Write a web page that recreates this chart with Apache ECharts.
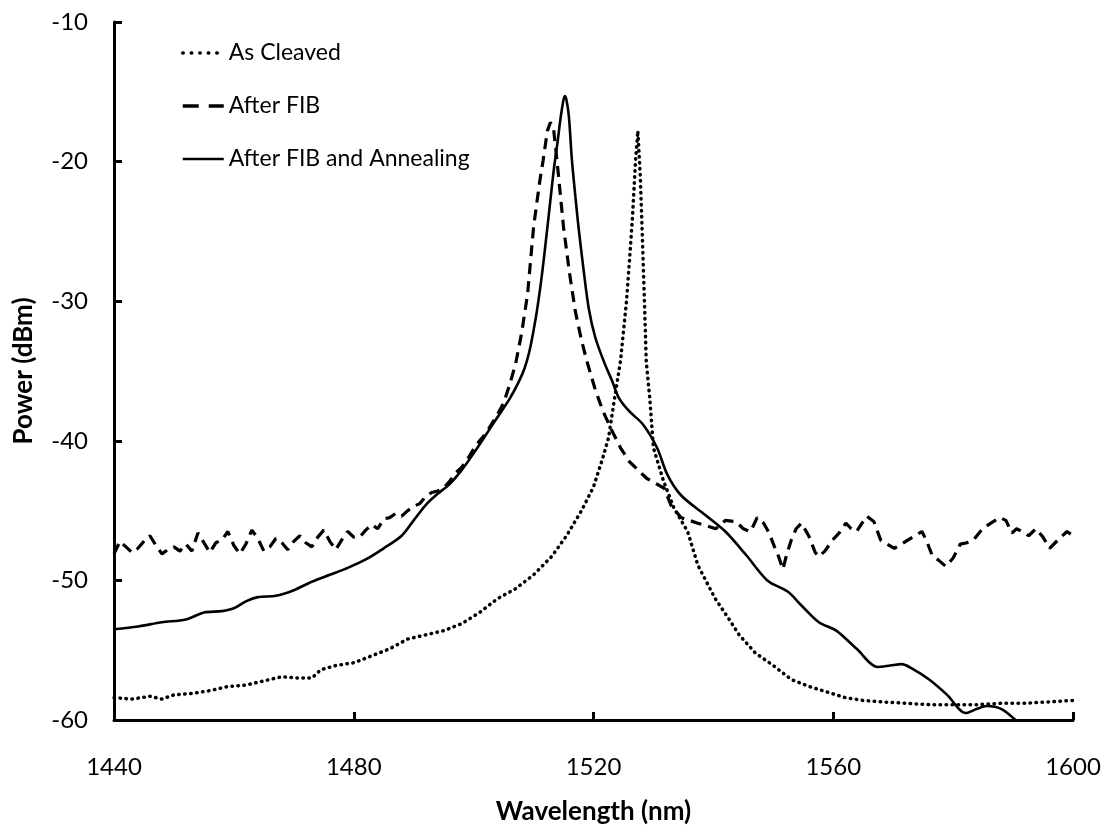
<!DOCTYPE html>
<html>
<head>
<meta charset="utf-8">
<script src="https://cdn.jsdelivr.net/npm/echarts@6/dist/echarts.min.js"></script>
<style>html,body{margin:0;padding:0;background:#fff}#c{width:1113px;height:834px}</style>
</head>
<body>
<div id="c"></div>
<script>
const seriesNames = ['As Cleaved', 'After FIB', 'After FIB and Annealing'];
const xTicks = [1440, 1480, 1520, 1560, 1600];
const yTicks = [-60, -50, -40, -30, -20, -10];

const cleavedX = [1440,1443,1446,1448,1450,1453,1456,1459,1462,1465,1468,1471,1473,1474.5,1477,1480,1483,1486,1489,1492,1495,1498,1501,1504,1507,1510,1513,1515.5,1518,1520,1521.5,1522.5,1523.5,1524.5,1525.5,1526,1526.5,1527,1527.4,1527.8,1528.1,1528.5,1528.8,1529.4,1530,1531.7,1533.4,1535.7,1537.4,1540.3,1542.5,1544.3,1547,1550,1553,1556,1559,1562,1565,1568,1572,1576,1580,1584,1588,1592,1596,1600];
const cleavedY = [-58.4,-58.5,-58.3,-58.5,-58.2,-58.1,-57.9,-57.6,-57.5,-57.2,-56.9,-57.0,-57.0,-56.4,-56.1,-55.9,-55.4,-54.9,-54.2,-53.9,-53.6,-53.1,-52.3,-51.3,-50.6,-49.6,-48.3,-46.8,-45.0,-43.3,-41.3,-39.8,-37.0,-34.3,-30.0,-27.1,-24.0,-20.0,-17.8,-21.0,-24.7,-30.0,-34.3,-37.0,-40.5,-42.9,-44.8,-46.5,-48.9,-51.3,-52.7,-53.9,-55.2,-56.1,-57.1,-57.6,-58.0,-58.4,-58.6,-58.7,-58.8,-58.9,-58.9,-58.9,-58.8,-58.8,-58.7,-58.6];

const fibX = [1440,1441,1442,1443,1444,1445,1446,1447,1448,1449,1450,1451,1452,1453,1454,1455,1456,1457,1458,1459,1460,1461,1462,1463,1464,1465,1466,1467,1468,1469,1470,1471,1472,1473,1474,1475,1476,1477,1478,1479,1480,1481,1482,1483,1484,1485,1486,1487,1488,1489,1490,1491,1492,1493,1494,1495,1496,1497,1498,1499,1500,1501,1502,1503,1504,1505,1506,1507,1508,1509,1510,1511,1511.6,1512.3,1512.8,1513.3,1513.9,1514.5,1515,1516,1517,1518,1518.9,1520.2,1521.5,1523.1,1524.5,1526,1528.9,1531.8,1532.9,1534.6,1536,1537.4,1539,1540.4,1542,1543.8,1545,1546.2,1547.3,1548.4,1549.3,1550.2,1550.8,1551.6,1552.2,1553,1553.8,1554.7,1555.9,1557,1557.6,1558.6,1559.9,1561,1562.1,1563,1563.9,1564.8,1565.6,1566.8,1567.9,1569,1570.2,1571.4,1572.5,1573.6,1574.8,1575.6,1576.5,1577.7,1578.8,1580,1581.2,1582.3,1583.4,1584.9,1586.3,1587.8,1588.8,1589.8,1590.6,1591.5,1592.6,1593.8,1595,1596.1,1597.5,1599,1600];
const fibY = [-48.1,-47.2,-47.6,-48.0,-47.7,-47.2,-46.8,-47.5,-48.1,-47.8,-47.6,-47.9,-47.4,-47.9,-46.6,-47.3,-48.0,-47.3,-47.1,-46.5,-47.5,-48.1,-47.4,-46.4,-47.0,-47.9,-47.6,-47.0,-47.3,-47.8,-47.2,-46.8,-47.3,-47.6,-46.9,-46.4,-47.2,-47.8,-47.1,-46.5,-46.9,-46.9,-46.4,-46.0,-46.3,-45.6,-45.5,-45.2,-45.4,-45.0,-44.7,-44.5,-44.0,-43.7,-43.6,-43.4,-42.9,-42.3,-41.9,-41.3,-40.6,-40.0,-39.5,-38.8,-38.1,-37.3,-36.0,-34.5,-32.3,-29.5,-24.7,-21.5,-19.9,-17.8,-17.2,-17.5,-19.9,-22.5,-24.7,-28.0,-30.8,-32.8,-34.3,-36.2,-37.8,-39.3,-40.5,-41.5,-42.7,-43.4,-44.6,-45.5,-45.7,-45.9,-46.1,-46.3,-45.7,-45.8,-46.3,-46.5,-45.5,-45.9,-46.6,-47.6,-48.2,-49.2,-48.2,-47.1,-46.3,-45.9,-46.8,-48.0,-48.3,-47.9,-47.1,-46.6,-45.9,-46.3,-46.5,-45.9,-45.4,-45.8,-47.1,-47.4,-47.7,-47.4,-47.1,-46.8,-46.5,-47.2,-48.2,-48.6,-49.0,-48.4,-47.4,-47.3,-47.1,-46.3,-45.9,-45.5,-45.7,-46.6,-46.3,-46.5,-46.8,-46.3,-46.9,-47.7,-47.1,-46.5,-46.8];

const annealX = [1440,1444,1448,1452,1455,1458,1460,1462,1464,1467,1470,1473,1476,1479,1482,1485,1488,1490,1492,1494,1496,1498,1500,1502,1504,1506,1507.5,1508.5,1509.3,1510,1510.7,1511.4,1512.1,1512.8,1513.4,1514,1514.5,1514.9,1515.2,1515.5,1515.9,1516.4,1517,1517.5,1518.3,1519.2,1520.3,1521.8,1523.1,1524.2,1526,1528.2,1530.6,1532.3,1534.6,1538.6,1542,1545.5,1549,1552.4,1554.7,1557.6,1560.5,1563.9,1567.4,1569.5,1571.4,1573.1,1576,1579,1582.1,1584,1585.6,1588,1590.4];
const annealY = [-53.5,-53.3,-53.0,-52.8,-52.3,-52.2,-52.0,-51.5,-51.2,-51.1,-50.7,-50.1,-49.6,-49.1,-48.5,-47.7,-46.8,-45.7,-44.6,-43.8,-43.1,-42.1,-40.9,-39.6,-38.3,-37.0,-35.8,-34.8,-33.6,-32.1,-30.3,-28.1,-25.5,-22.8,-20.5,-18.6,-16.9,-15.8,-15.3,-15.6,-16.8,-19.9,-22.6,-24.7,-27.6,-30.5,-32.6,-34.4,-35.7,-36.9,-37.9,-38.8,-40.5,-42.4,-43.9,-45.3,-46.5,-48.2,-50.0,-50.8,-51.8,-53.0,-53.6,-54.9,-56.2,-56.1,-56.0,-56.3,-57.1,-58.2,-59.5,-59.2,-59.0,-59.2,-60.0];

function pairs(xs, ys) { return xs.map((x, i) => [x, ys[i]]); }

const FONT = 'Lato';
const hiddenSymbol = {color: 'rgba(0,0,0,0)', borderColor: 'rgba(0,0,0,0)', borderWidth: 0, opacity: 0};
const chart = echarts.init(document.getElementById('c'), null, {renderer: 'canvas'});
chart.setOption({
  backgroundColor: '#fff',
  animation: false,
  textStyle: {fontFamily: FONT, color: '#000'},
  grid: {left: 114, right: 40, top: 22, bottom: 114, containLabel: false},
  legend: {
    orient: 'vertical', left: 176, top: 36,
    itemWidth: 41, itemHeight: 14, itemGap: 29,
    itemStyle: hiddenSymbol,
    textStyle: {fontFamily: FONT, fontSize: 23, lineHeight: 24, color: '#000'},
    data: [
      {name: seriesNames[0], itemStyle: hiddenSymbol, lineStyle: {type: [0.5, 8], width: 3.5, cap: 'round', color: '#000'}},
      {name: seriesNames[1], itemStyle: hiddenSymbol, lineStyle: {type: [16, 10], width: 3.5, color: '#000'}},
      {name: seriesNames[2], itemStyle: hiddenSymbol, lineStyle: {width: 2.6, color: '#000'}}
    ]
  },
  xAxis: {
    type: 'value', min: xTicks[0], max: xTicks[xTicks.length - 1], interval: 40,
    name: 'Wavelength (nm)', nameLocation: 'middle', nameGap: 79,
    nameTextStyle: {fontFamily: FONT, fontSize: 26, fontWeight: 'bold', color: '#000'},
    axisLine: {show: true, lineStyle: {color: '#000', width: 3}},
    axisTick: {show: true, inside: true, length: 8, lineStyle: {color: '#000', width: 3}},
    axisLabel: {fontFamily: FONT, fontSize: 24, color: '#000', margin: 35, formatter: v => String(v)},
    splitLine: {show: false}
  },
  yAxis: {
    type: 'value', min: yTicks[0], max: yTicks[yTicks.length - 1], interval: 10,
    name: 'Power (dBm)', nameLocation: 'middle', nameGap: 77, nameRotate: 90,
    nameTextStyle: {fontFamily: FONT, fontSize: 26, fontWeight: 'bold', color: '#000'},
    axisLine: {show: true, lineStyle: {color: '#000', width: 3}},
    axisTick: {show: true, inside: true, length: 8, lineStyle: {color: '#000', width: 3}},
    axisLabel: {fontFamily: FONT, fontSize: 24, color: '#000', margin: 26},
    splitLine: {show: false}
  },
  series: [
    {name: seriesNames[0], type: 'line', symbol: 'none', smooth: false,
     data: pairs(cleavedX, cleavedY),
     lineStyle: {color: '#000', width: 3.5, type: [0.5, 5.5], cap: 'round'},
     itemStyle: {color: '#000'}},
    {name: seriesNames[1], type: 'line', symbol: 'none', smooth: false,
     data: pairs(fibX, fibY),
     lineStyle: {color: '#000', width: 3.2, type: [11, 7]},
     itemStyle: {color: '#000'}},
    {name: seriesNames[2], type: 'line', symbol: 'none', smooth: 0.3,
     data: pairs(annealX, annealY),
     lineStyle: {color: '#000', width: 2.6},
     itemStyle: {color: '#000'}}
  ]
});
</script>
</body>
</html>
